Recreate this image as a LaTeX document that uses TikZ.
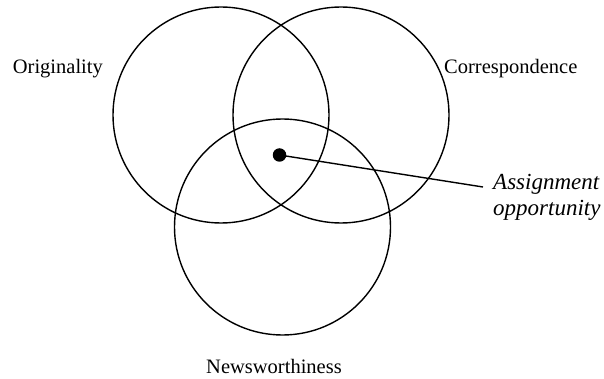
\documentclass[tikz,border=0pt]{standalone}
\usepackage{fontspec}
\setmainfont{Liberation Serif}
\begin{document}
\begin{tikzpicture}[x=1pt,y=-1pt,
  venn/.style={draw=black,line width=1.4pt,circle,minimum size=216pt,inner sep=0pt},
  lab/.style={font=\fontsize{20.5}{24}\selectfont,inner sep=0pt},
  ilab/.style={font=\fontsize{23}{25}\selectfont\itshape,inner sep=0pt,anchor=base west},
  dotsty/.style={fill=black,circle,minimum size=13.5pt,inner sep=0pt}]
\useasboundingbox (0,0) rectangle (604,379);
\node[venn] (orig) at (221,115) {};
\node[venn] (corr) at (341,115) {};
\node[venn] (news) at (282.5,227) {};
\node[dotsty] (dot) at (279.5,155) {};
\coordinate (tip) at (483,187);
\draw[line width=1.4pt] (dot.center) -- (tip);
\node[lab,anchor=base west] (t1) at (12.7,73.3) {Originality};
\node[lab,anchor=base west] (t2) at (444,73.3) {Correspondence};
\node[lab,anchor=base] (t3) at (274,373) {Newsworthiness};
\node[ilab] (t4) at (493,190) {Assignment};
\node[ilab] (t5) at (493,215) {opportunity};
\end{tikzpicture}
\end{document}
